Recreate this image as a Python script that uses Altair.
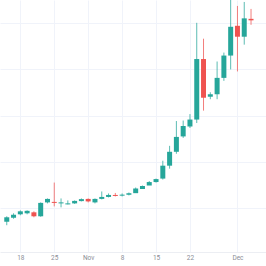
import altair as alt
import pandas as pd

# trading-day index labels (Oct 14 .. Dec 3)
dates = ["Oct 14", "Oct 15", "Oct 18", "Oct 19", "Oct 20", "Oct 21", "Oct 22",
         "Oct 25", "Oct 26", "Oct 27", "Oct 28", "Oct 29",
         "Nov 1", "Nov 2", "Nov 3", "Nov 4", "Nov 5",
         "Nov 8", "Nov 9", "Nov 10", "Nov 11", "Nov 12",
         "Nov 15", "Nov 16", "Nov 17", "Nov 18", "Nov 19",
         "Nov 22", "Nov 23", "Nov 24", "Nov 25", "Nov 26",
         "Nov 29", "Nov 30", "Dec 1", "Dec 2", "Dec 3"]

open_ = [42.5, 46.5, 50, 51, 52, 48, 62, 62.5, 62, 61, 61, 63.3, 65.5, 62, 65.5, 67.5, 69.5,
         69.5, 69.7, 71.3, 75.5, 79, 82.5, 86, 99, 113, 128.5, 138.5, 145.5, 206.5, 168.5, 171, 187.5, 210, 240, 229, 247]
close = [47, 49.5, 53, 53.5, 48, 61.5, 65.5, 62, 62, 61, 63.5, 65.3, 63, 65.5, 67.5, 69.5, 69,
         69.8, 71.3, 76, 78.5, 82.5, 85.5, 99, 113, 128, 139, 145.5, 206.5, 167.5, 171, 187.5, 210, 239, 229, 247.5, 245.5]
high = [48, 51, 54, 54, 53, 62, 66, 82, 66, 64, 64, 66, 66, 66, 73, 71, 71.5,
        71, 72, 77, 79, 83.5, 86, 104, 119, 144, 144.5, 151, 243, 227, 173, 204, 213, 271, 260, 264, 257]
low = [39, 45.5, 49, 50, 47, 47.5, 61, 58, 57, 60, 60.5, 63, 62, 61, 65, 67, 68,
       68, 69, 75, 78, 82, 82, 85, 96, 111, 127, 137, 142, 154.5, 166, 166, 184.5, 196, 194, 221, 241]

idx = list(range(len(dates)))
df = pd.DataFrame({"i": idx, "date": dates, "open": open_, "close": close,
                   "high": high, "low": low})
df["dir"] = ["up" if c >= o else "down" for o, c in zip(open_, close)]
df["top"] = df[["open", "close"]].max(axis=1)
df["bot"] = df[["open", "close"]].min(axis=1)
df["bot"] = [b if t - b >= 1 else t - 1 for t, b in zip(df["top"], df["bot"])]

tick_idx = [2, 7, 12, 17, 22, 27, 34]
tick_lab = ["18", "25", "Nov", "8", "15", "22", "Dec"]
lab_expr = "{" + ",".join(f"'{i}':'{l}'" for i, l in zip(tick_idx, tick_lab)) + "}[toString(datum.value)]"
grid_vals = [56, 103, 149, 196, 243]

color = alt.Color("dir:N", scale=alt.Scale(domain=["up", "down"], range=["#26a69a", "#ef5350"]), legend=None)
xenc = alt.X("i:Q", scale=alt.Scale(domain=[-0.26, 37.47], nice=False, zero=False),
             axis=alt.Axis(values=tick_idx, labelExpr=lab_expr, title=None, ticks=False,
                           grid=True, gridColor="#f0f3fa", domainColor="#eceef3",
                           labelFontSize=6.5, labelColor="#8a8d96", labelPadding=2.5,
                           labelFont="Roboto"))
yscale = alt.Scale(domain=[12, 266], nice=False, zero=False)

base = alt.Chart(df)

wick = base.mark_rule(strokeWidth=1, clip=True, opacity=0.75).encode(
    x=xenc,
    y=alt.Y("low:Q", scale=yscale, axis=alt.Axis(values=grid_vals, grid=True, gridColor="#f0f3fa",
                                                  labels=False, ticks=False, domain=False, title=None)),
    y2="high:Q",
    color=color,
)
body = base.mark_bar(size=5, clip=True).encode(
    x="i:Q",
    y=alt.Y("bot:Q", scale=yscale),
    y2="top:Q",
    color=color,
)

chart = (wick + body).properties(
    width=266, height=252,
    padding={"left": 0, "top": 0, "right": 0, "bottom": 14},
    autosize=alt.AutoSizeParams(type="none"),
).configure_view(stroke=None)
chart.save("out.html", embed_options={"renderer": "svg", "actions": False})
